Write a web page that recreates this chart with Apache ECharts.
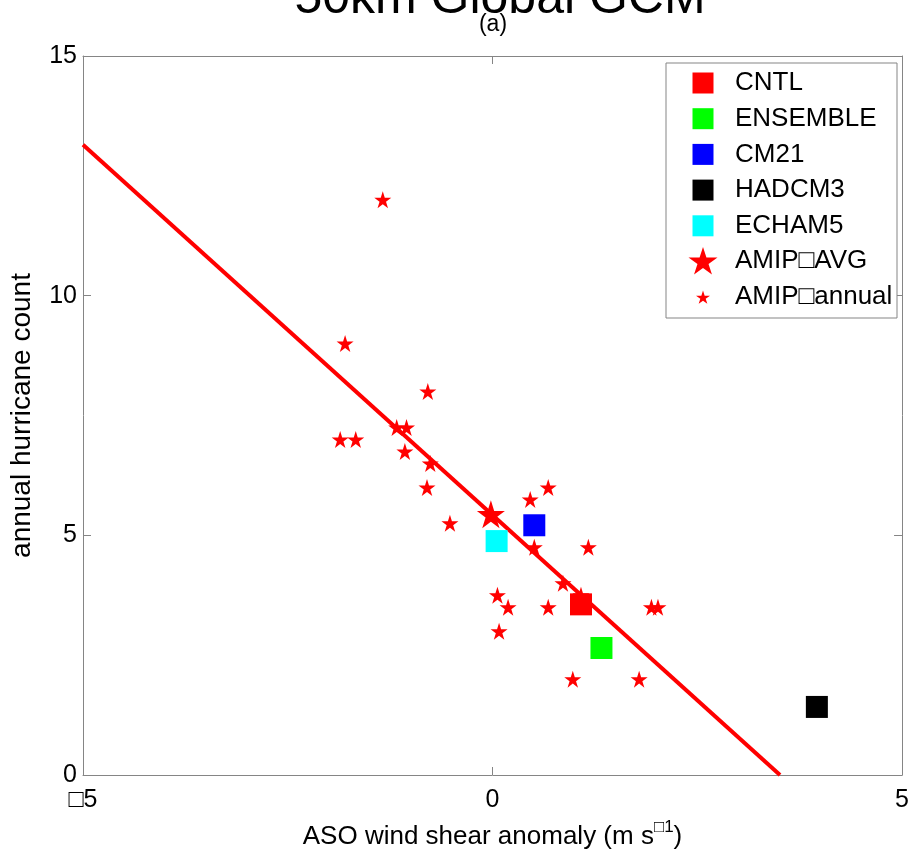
<!DOCTYPE html>
<html><head><meta charset="utf-8">
<script src="https://cdn.jsdelivr.net/npm/echarts@6/dist/echarts.min.js"></script>
<style>html,body{margin:0;padding:0;background:#fff}#c{width:912px;height:855px}</style>
</head><body><div id="c"></div>
<script>
// ---------------- data ----------------
const titleText = '50km Global GCM';
const subTitleText = '(a)';
const xAxisName = 'ASO wind shear anomaly (m s';
const xAxisSup = '\u25A11';
const yAxisName = 'annual hurricane count';
const xTickValues = [-5, 0, 5];
const xTickLabels = ['\u25A15', '0', '5'];
const yTickValues = [0, 5, 10, 15];
const yTickLabels = ['0', '5', '10', '15'];

const modelNames = ['CNTL', 'ENSEMBLE', 'CM21', 'HADCM3', 'ECHAM5'];
const modelX = [1.08, 1.33, 0.51, 3.96, 0.05];
const modelY = [3.56, 2.65, 5.21, 1.42, 4.88];

const avgName = 'AMIP\u25A1AVG';
const avgX = [-0.02];
const avgY = [5.44];

const annualName = 'AMIP\u25A1annual';
const annualX = [-1.34, -1.80, -0.79, -1.86, -1.67, -1.17, -1.05, -1.07, -0.76, -0.80, -0.52, 0.46, 0.68, 0.51, 1.17, 0.86, 0.06, 0.19, 0.68, 0.08, 1.94, 2.02, 0.98, 1.79, 1.08];
const annualY = [12.0, 9.0, 8.0, 7.0, 7.0, 7.25, 7.25, 6.75, 6.5, 6.0, 5.25, 5.75, 6.0, 4.75, 4.75, 4.0, 3.75, 3.5, 3.5, 3.0, 3.5, 3.5, 2.0, 2.0, 3.75];

const fitX = [-5, 3.51];
const fitY = [13.15, 0];

// ---------------- styles ----------------
const modelColors = ['#ff0000', '#00ff00', '#0000ff', '#000000', '#00ffff'];
const FONT = '"Liberation Sans", Arial, Helvetica, sans-serif';
const FRAME = '#858585';
const STAR = 'path://M0,-100L22.45,-30.9L95.1,-30.9L36.3,11.8L58.8,80.9L0,38.2L-58.8,80.9L-36.3,11.8L-95.1,-30.9L-22.45,-30.9Z';

const pairs = (xs, ys) => xs.map((x, i) => [x, ys[i]]);

const series = [];
series.push({
  type: 'line', name: 'fit', data: pairs(fitX, fitY), symbol: 'none', silent: true,
  lineStyle: { color: '#ff0000', width: 4, opacity: 1 }, z: 1, animation: false
});
series.push({
  type: 'scatter', name: annualName, data: pairs(annualX, annualY), symbol: STAR, symbolSize: 17,
  itemStyle: { color: '#ff0000', opacity: 1 }, z: 2, animation: false
});
series.push({
  type: 'scatter', name: avgName, data: pairs(avgX, avgY), symbol: STAR, symbolSize: 28,
  itemStyle: { color: '#ff0000', opacity: 1 }, z: 3, animation: false
});
modelNames.forEach((n, i) => {
  series.push({
    type: 'scatter', name: n, data: [[modelX[i], modelY[i]]], symbol: 'rect', symbolSize: 22,
    itemStyle: { color: modelColors[i], opacity: 1 }, z: 4, animation: false
  });
});

// legend (one component per row for exact placement)
const legendRows = modelNames.map(n => ({ name: n, icon: 'rect', size: 21 }))
  .concat([{ name: avgName, icon: STAR, size: 29 }, { name: annualName, icon: STAR, size: 14 }]);
const iconCx = 703, textX = 735, row0 = 83, rowStep = 35.7, LH = 27;
const legends = legendRows.map((r, i) => {
  const cy = row0 + i * rowStep;
  const left = iconCx - r.size / 2;
  const h = Math.max(r.size, LH);
  return {
    show: true, orient: 'vertical', left: left, top: cy - h / 2, padding: 0,
    itemWidth: r.size, itemHeight: r.size, selectedMode: false, z: 20,
    data: [{ name: r.name, icon: r.icon, itemStyle: { opacity: 1 } }],
    textStyle: { fontSize: 26, fontFamily: FONT, color: '#000', lineHeight: LH,
      padding: [0, 0, 0, textX - (left + r.size + 5)] }
  };
});

const axisCommon = {
  type: 'value', splitLine: { show: false },
  axisLine: { show: true, onZero: false, lineStyle: { color: FRAME, width: 1 } },
  axisTick: { show: true, inside: true, length: 8, lineStyle: { color: FRAME, width: 1 } }
};

const chart = echarts.init(document.getElementById('c'), null, { renderer: 'canvas' });
chart.setOption({
  backgroundColor: '#ffffff',
  animation: false,
  grid: { left: 80, right: 6, top: 56, bottom: 78, containLabel: false },
  xAxis: [
    Object.assign({}, axisCommon, {
      position: 'bottom', min: -5, max: 5, interval: 5,
      axisLabel: { margin: 13, fontSize: 25, fontFamily: FONT, color: '#000',
        formatter: v => xTickLabels[xTickValues.indexOf(v)] },
      name: '{n|' + xAxisName + '}{s|' + xAxisSup + '}{n|)}', nameLocation: 'middle', nameGap: 44,
      nameTextStyle: { rich: {
        n: { fontSize: 26, fontFamily: FONT, color: '#000', verticalAlign: 'bottom' },
        s: { fontSize: 17, fontFamily: FONT, color: '#000', verticalAlign: 'top', padding: [0, 0, 14, 0] } } }
    }),
    Object.assign({}, axisCommon, {
      position: 'top', min: -5, max: 5, interval: 5, axisLabel: { show: false }
    })
  ],
  yAxis: [
    Object.assign({}, axisCommon, {
      position: 'left', min: 0, max: 15, interval: 5,
      axisLabel: { margin: 6, fontSize: 25, fontFamily: FONT, color: '#000',
        formatter: v => yTickLabels[yTickValues.indexOf(v)] },
      name: yAxisName, nameLocation: 'middle', nameGap: 47,
      nameTextStyle: { fontSize: 28, fontFamily: FONT, color: '#000' }
    }),
    Object.assign({}, axisCommon, {
      position: 'right', min: 0, max: 15, interval: 5, axisLabel: { show: false }
    })
  ],
  legend: legends,
  graphic: [
    { type: 'rect', z: 15, shape: { x: 666, y: 63, width: 231, height: 255 },
      style: { fill: '#ffffff', stroke: FRAME, lineWidth: 1 } },
    { type: 'text', z: 15, x: 500, y: 24,
      style: { text: titleText, font: '50px ' + FONT, fill: '#000', align: 'center', verticalAlign: 'bottom',
        textAlign: 'center', textVerticalAlign: 'bottom' } },
    { type: 'text', z: 16, x: 493, y: 25,
      style: { text: subTitleText, font: '23px ' + FONT, fill: '#000', align: 'center', verticalAlign: 'middle',
        textAlign: 'center', textVerticalAlign: 'middle' } }
  ],
  series: series
});
</script>
</body></html>
